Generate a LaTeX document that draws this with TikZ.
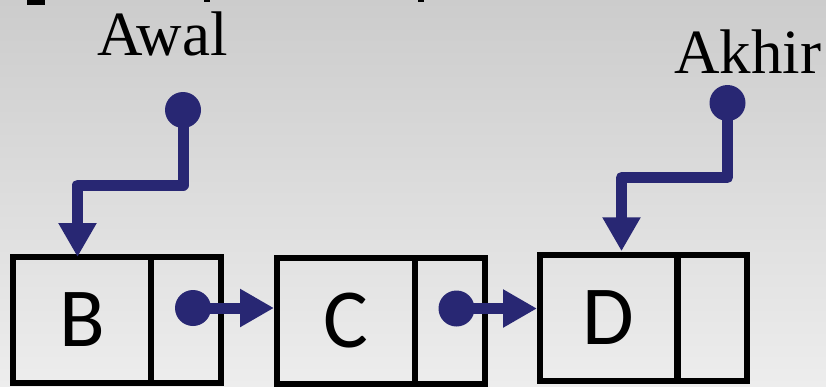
\documentclass[tikz,border=0pt]{standalone}
\usepackage{fontspec}
\setmainfont{Liberation Serif}
\newfontfamily\cellfont{Carlito}
\usetikzlibrary{arrows.meta}
\definecolor{ptrblue}{RGB}{40,39,115}
\definecolor{bgtop}{RGB}{204,204,204}
\definecolor{bgbot}{RGB}{237,237,237}
\begin{document}
\begin{tikzpicture}[x=1pt,y=-1pt,
  cell/.style={draw=black, line width=6pt, rectangle, inner sep=0pt, outer sep=0pt,
    minimum height=126pt, font=\cellfont\fontsize{84}{84}\selectfont},
  datacell/.style={cell, minimum width=138pt},
  linkcell/.style={cell, minimum width=70pt},
  ptr/.style={draw=ptrblue, line width=11pt, line join=round,
    -{Triangle[length=34pt,width=36pt]}},
  dot/.style={circle, fill=ptrblue, minimum size=36pt, inner sep=0pt, outer sep=0pt},
  varlabel/.style={font=\fontsize{63}{63}\selectfont, anchor=base, inner sep=0pt}
]
% background
\shade[top color=bgtop, bottom color=bgbot] (0,0) rectangle (826,386);
\useasboundingbox (0,0) rectangle (826,386);

% bits of the line above
\fill[black] (27,0) rectangle (45,5);
\fill[black] (204,0) rectangle (210,2);
\fill[black] (418,0) rectangle (424,2);

% list nodes: data cell + link cell
\node[datacell] (Bd) at (82,320) {B};
\node[linkcell] (Bp) at (186,320) {};
\node[datacell] (Cd) at (345.5,320.5) {C};
\node[linkcell] (Cp) at (449.5,320.5) {};
\node[datacell] (Dd) at (608.5,317.75) {D};
\node[linkcell] (Dp) at (712,317.75) {};

% pointer variables
\node[varlabel] (awal) at (162.5,55) {Awal};
\node[varlabel] (akhir) at (747.5,73) {Akhir};

\node[dot] (awaldot) at (183,110) {};
\node[dot] (akhirdot) at (727.5,103) {};
\node[dot] (bdot) at (193,308) {};
\node[dot] (cdot) at (456.5,308.5) {};

\coordinate (awalbend) at (77.5,185);
\coordinate (akhirbend) at (621.5,177.5);

\draw[ptr] (awaldot.center) |- (awalbend) -- (awalbend |- Bd.north);
\draw[ptr, shorten >=3.5pt] (akhirdot.center) |- (akhirbend) -- (akhirbend |- Dd.north);

% next links
\draw[ptr, shorten >=2.5pt] (bdot.center) -- (bdot.center -| Cd.west);
\draw[ptr, shorten >=2.5pt] (cdot.center) -- (cdot.center -| Dd.west);
\end{tikzpicture}
\end{document}
